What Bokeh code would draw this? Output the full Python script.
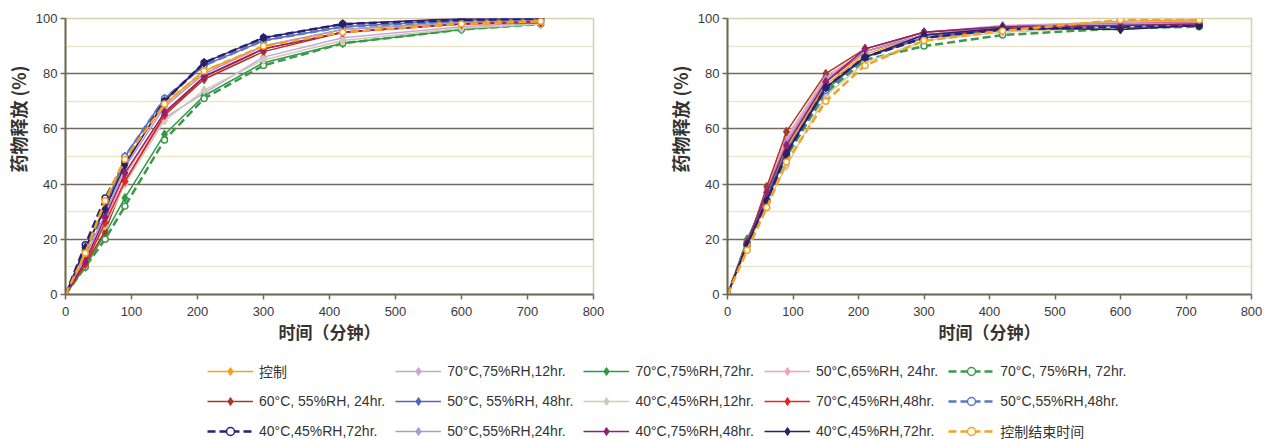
from bokeh.plotting import figure
from bokeh.models import Legend, LegendItem, FixedTicker, Range1d, ColumnDataSource, Title
from bokeh.layouts import column, row
from bokeh.embed import file_html
from bokeh.resources import INLINE

# ---------------- data ----------------
time_min = [0, 30, 60, 90, 150, 210, 300, 420, 600, 720]

series_labels = [
    "控制", "70°C,75%RH,12hr.", "70°C,75%RH,72hr.", "50°C,65%RH, 24hr.", "70°C, 75%RH, 72hr.",
    "60°C, 55%RH, 24hr.", "50°C, 55%RH, 48hr.", "40°C,45%RH,12hr.", "70°C,45%RH,48hr.", "50°C,55%RH,48hr.",
    "40°C,45%RH,72hr.", "50°C,55%RH,24hr.", "40°C,75%RH,48hr.", "40°C,45%RH,72hr.", "控制结束时间",
]

left_release = [
    [0, 15, 33, 48, 69, 81, 90, 96, 99, 99.5],
    [0, 12, 26, 41, 64, 73, 86, 93, 97, 98.5],
    [0, 10, 22, 35, 58, 72, 84, 91, 96, 98],
    [0, 13, 27, 43, 66, 78, 89, 95, 98, 99],
    [0, 10, 20, 32, 56, 71, 83, 91, 96, 98],
    [0, 11, 23, 41, 65, 78, 88, 95, 98, 99],
    [0, 17, 31, 50, 71, 83, 92, 97, 99.5, 100],
    [0, 12, 25, 40, 63, 74, 85, 92, 96.5, 98],
    [0, 11, 26, 41, 65, 79, 89, 95, 98, 98.5],
    [0, 16, 30, 50, 71, 83, 92, 97, 99, 99.5],
    [0, 18, 35, 48, 70, 84, 93, 98, 99.5, 100],
    [0, 14, 29, 46, 68, 80, 90, 96, 98.5, 99],
    [0, 12, 28, 44, 66, 79, 89, 95, 98, 99],
    [0, 17, 31, 47, 70, 84, 93, 98, 100, 100],
    [0, 15, 34, 49, 69, 81, 90, 95, 98, 99],
]

right_release = [
    [0, 17, 36, 53, 76, 87, 94, 97, 99, 99.5],
    [0, 18, 37, 56, 78, 88, 95, 97.5, 98.5, 99],
    [0, 20, 36, 52, 74, 86, 93, 96, 97, 97.5],
    [0, 18, 38, 57, 79, 88, 94, 96.5, 98, 98.5],
    [0, 19, 34, 50, 73, 85, 90, 94, 96.5, 97],
    [0, 18, 39, 59, 80, 89, 95, 97, 98, 98.5],
    [0, 18, 35, 52, 75, 86, 93, 96, 97, 97.5],
    [0, 17, 33, 46.5, 72, 84, 92, 95, 97, 98],
    [0, 18, 37, 55, 77, 88, 94, 96, 98, 98.5],
    [0, 18, 34, 51, 74, 86, 93, 96, 97.5, 98],
    [0, 18, 34, 51, 75, 86, 93, 96, 97, 97.5],
    [0, 19, 37, 55, 78, 88, 94, 97, 98, 98.5],
    [0, 19, 37, 54, 77, 89, 95, 97, 97.5, 98],
    [0, 18, 34, 51, 75, 86, 94, 96.5, 96, 97.5],
    [0, 16, 31.5, 48, 70, 83, 92, 95.5, 99.5, 99.5],
]

x_ticks = [0, 100, 200, 300, 400, 500, 600, 700, 800]
y_ticks = [0, 20, 40, 60, 80, 100]

# ---------------- styles ----------------
colors = ["#F5A01A", "#C9A6D6", "#2E9A46", "#F4A3B4", "#3A9A4A",
          "#A33A2A", "#5566B8", "#CFCBB8", "#E8251F", "#5877C4",
          "#26237A", "#A99BD3", "#93206E", "#2B1F66", "#F5A21E"]
dashed = [False, False, False, False, True,
          False, False, False, False, True,
          True, False, False, False, True]

FONT = "'Liberation Sans', 'Noto Sans CJK SC', sans-serif"
CJK = "'Noto Sans CJK SC', sans-serif"


def style_line(i):
    if dashed[i]:
        return dict(line_color=colors[i], line_width=2.5, line_dash="8 4")
    return dict(line_color=colors[i], line_width=1.5)


def style_marker(i):
    if dashed[i]:
        return dict(marker="circle", size=6, line_color=colors[i], fill_color="white", line_width=1.5)
    return dict(marker="diamond", size=9, line_color=colors[i], fill_color=colors[i], line_width=1)


def make_panel(values, width, b_left, b_right, b_top, b_bottom):
    p = figure(width=width, height=346, x_range=Range1d(0, 800), y_range=Range1d(0, 100),
               output_backend="svg", toolbar_location=None,
               min_border_left=b_left, min_border_right=b_right,
               min_border_top=b_top, min_border_bottom=b_bottom)
    p.background_fill_color = "white"
    p.border_fill_color = "white"
    p.outline_line_color = "#d6ceb0"
    p.outline_line_width = 1.5

    p.xgrid.visible = False
    p.ygrid.ticker = FixedTicker(ticks=[20, 40, 60, 80], minor_ticks=[10, 30, 50, 70, 90])
    p.ygrid.grid_line_color = "#6f6a5c"
    p.ygrid.grid_line_width = 1.5
    p.ygrid.minor_grid_line_color = "#ebe5c9"
    p.ygrid.minor_grid_line_width = 1.5

    p.xaxis.ticker = FixedTicker(ticks=x_ticks)
    p.yaxis.ticker = FixedTicker(ticks=y_ticks)
    for ax in (p.xaxis[0], p.yaxis[0]):
        ax.axis_line_color = "#6e6858"
        ax.axis_line_width = 2
        ax.major_tick_line_color = "#6e6858"
        ax.major_tick_line_width = 1.5
        ax.major_tick_in = 0
        ax.major_tick_out = 5
        ax.minor_tick_line_color = None
        ax.major_label_text_font = FONT
        ax.major_label_text_font_size = "13px"
        ax.major_label_text_color = "#3a3a3a"
        ax.axis_label_text_font = CJK
        ax.axis_label_text_font_size = "17px"
        ax.axis_label_text_font_style = "bold"
        ax.axis_label_text_color = "#333333"
    p.xaxis.major_label_standoff = 7
    p.yaxis.major_label_standoff = 3
    p.xaxis.axis_label = "时间（分钟）"
    p.xaxis.axis_label_standoff = 0

    # y title sits in the upper part of the left margin, as in the reference
    ytitle = Title(text="药物释放 (%)", align="right", offset=47, standoff=4,
                   text_font=CJK, text_font_size="18px", text_font_style="bold",
                   text_color="#333333")
    p.add_layout(ytitle, "left")

    for i, vals in enumerate(values):
        src = ColumnDataSource(dict(x=time_min, y=vals))
        p.line("x", "y", source=src, **style_line(i))
        p.scatter("x", "y", source=src, **style_marker(i))
    return p


p_left = make_panel(left_release, 662, 60, 69, 18, 52)
p_right = make_panel(right_release, 608, 60, 19, 18, 52)

# ---------------- legend strip ----------------
# the legend renderers reuse the left-panel data but the view ranges are set
# away from it, so only the legend entries are visible in this strip
leg = figure(width=1263, height=93, x_range=Range1d(-2000, -1999), y_range=Range1d(-2000, -1999),
             output_backend="svg", toolbar_location=None, min_border=0,
             x_axis_location=None, y_axis_location=None)
leg.grid.visible = False
leg.outline_line_color = None
leg.background_fill_color = "white"

items = []
for i, lab in enumerate(series_labels):
    src = ColumnDataSource(dict(x=time_min, y=left_release[i]))
    rl = leg.line("x", "y", source=src, **style_line(i))
    rm = leg.scatter("x", "y", source=src, **style_marker(i))
    items.append(LegendItem(label=lab, renderers=[rl, rm]))

legend = Legend(items=items, ncols=5, orientation="horizontal", location=(207, -2),
                glyph_width=46, glyph_height=20, label_height=20, label_standoff=6,
                spacing=10, padding=0, margin=0, border_line_color=None,
                background_fill_alpha=0, label_text_font=FONT,
                label_text_font_size="14px", label_text_color="#333333")
leg.add_layout(legend, "center")

layout = column(row(p_left, p_right, spacing=0), leg, spacing=0)

open("out.html", "w").write(file_html(layout, INLINE))
